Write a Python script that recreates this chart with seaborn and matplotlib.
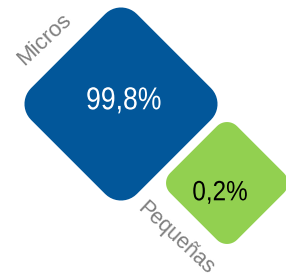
import numpy as np
import pandas as pd
import matplotlib
matplotlib.use("Agg")
import matplotlib.pyplot as plt
import seaborn as sns
from matplotlib.path import Path
from matplotlib.patheffects import AbstractPathEffect
from matplotlib.transforms import Affine2D

# data
categories = ["Micros", "Pequeñas"]
shares = [99.8, 0.2]
value_labels = ["99,8%", "0,2%"]

# layout (pixel coords, y down)
centers_x = [121, 227]
centers_y = [104, 183]
marker_sizes = {"Micros": 19300, "Pequeñas": 7700}
colors = {"Micros": "#02579A", "Pequeñas": "#92D050"}


def rounded_diamond(r=0.15, n=12):
    # rounded square of side 1, turned 45 degrees
    pts = []
    h = 0.5 - r
    for cx, cy, a0 in [(h, h, 0), (-h, h, 90), (-h, -h, 180), (h, -h, 270)]:
        for t in np.linspace(np.radians(a0), np.radians(a0 + 90), n):
            pts.append((cx + r * np.cos(t), cy + r * np.sin(t)))
    pts = np.array(pts)
    ang = np.radians(45)
    rot = np.array([[np.cos(ang), -np.sin(ang)], [np.sin(ang), np.cos(ang)]])
    pts = pts @ rot.T
    pts = np.vstack([pts, pts[:1]])
    codes = [Path.MOVETO] + [Path.LINETO] * (len(pts) - 2) + [Path.CLOSEPOLY]
    return Path(pts, codes)


class SqueezeX(AbstractPathEffect):
    # narrow the glyphs horizontally around the text centre
    def __init__(self, sx):
        super().__init__()
        self.sx = sx

    def draw_path(self, renderer, gc, tpath, affine, rgbFace=None):
        ext = tpath.get_extents(affine)
        cx = (ext.x0 + ext.x1) / 2
        squeeze = Affine2D().translate(-cx, 0).scale(self.sx, 1).translate(cx, 0)
        renderer.draw_path(gc, tpath, affine + squeeze, rgbFace)


df = pd.DataFrame({"cat": categories, "share": shares, "x": centers_x, "y": centers_y})

sns.set_style("white")
plt.rcParams["font.family"] = ["Liberation Sans", "DejaVu Sans"]

fig = plt.figure(figsize=(2.86, 2.78), dpi=100)
ax = fig.add_axes([0, 0, 1, 1])
sns.scatterplot(data=df, x="x", y="y", hue="cat", palette=colors, size="cat",
                sizes=marker_sizes, marker=rounded_diamond(), linewidth=0,
                edgecolor="none", legend=False, ax=ax)
ax.set_xlim(0, 286)
ax.set_ylim(278, 0)
ax.axis("off")

ax.text(123.7, 109.3, value_labels[0], color="white", fontsize=22.8,
        ha="center", va="baseline", path_effects=[SqueezeX(0.84)])
ax.text(220, 200.3, value_labels[1], color="black", fontsize=20.1,
        ha="center", va="baseline", path_effects=[SqueezeX(0.87)])
ax.text(44, 40, categories[0], color="#7F7F7F", fontsize=16, rotation=43,
        ha="center", va="center", rotation_mode="anchor")
ax.text(176, 238, categories[1], color="#7F7F7F", fontsize=15.5, rotation=-43,
        ha="center", va="center", rotation_mode="anchor")

fig.savefig("out.png", dpi=100)
